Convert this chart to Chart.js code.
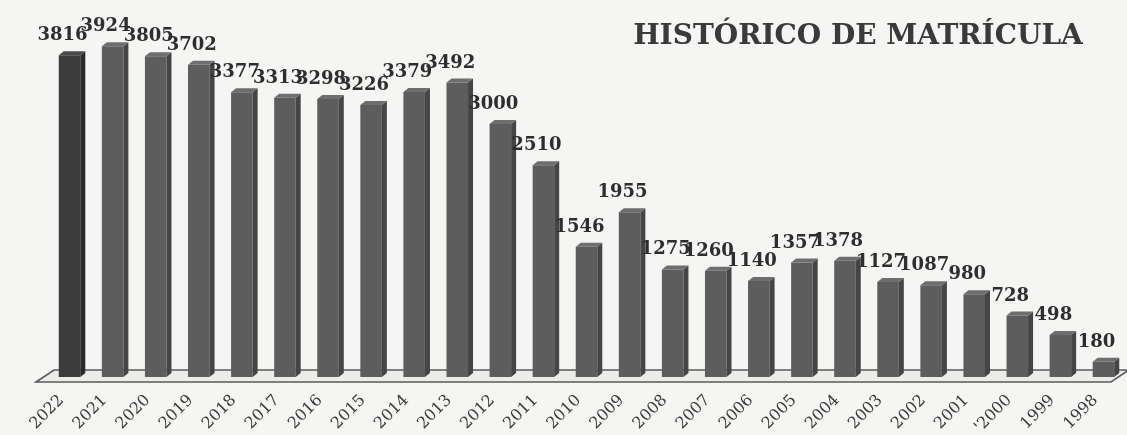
<!DOCTYPE html>
<html>
<head>
<meta charset="utf-8">
<script src="https://cdn.jsdelivr.net/npm/chart.js@4"></script>
<style>
  html,body{margin:0;padding:0;background:#f5f5f3;}
  #wrap{width:1127px;height:435px;position:relative;}
</style>
</head>
<body>
<div id="wrap"><canvas id="matricula"></canvas></div>
<script>
// matrícula por año escolar, del más reciente al más antiguo
const years=['2022','2021','2020','2019','2018','2017','2016','2015','2014','2013','2012','2011','2010','2009','2008','2007','2006','2005','2004','2003','2002','2001',"'2000",'1999','1998'];
const enrolled=[3816,3924,3805,3702,3377,3313,3298,3226,3379,3492,3000,2510,1546,1955,1275,1260,1140,1357,1378,1127,1087,980,728,498,180];
const title='HISTÓRICO DE MATRÍCULA';

const SERIF='"DejaVu Serif", "Liberation Serif", serif';
const DEPTH=5;

function shade(i){ return i===0?'#3b3b3b':'#5d5d5d'; }
function side(i){ return i===0?'#2a2a2a':'#454545'; }
function topc(i){ return i===0?'#4a4a4a':'#6e6e6e'; }

// caras laterales, piso y etiquetas para el efecto 3D
const bars3d={
  id:'bars3d',
  beforeDatasetsDraw(chart){
    const {ctx,chartArea:ca}=chart;
    const b=ca.bottom;
    ctx.save();
    ctx.beginPath();
    ctx.moveTo(ca.left-12,b+5);
    ctx.lineTo(ca.left+6,b-7);
    ctx.lineTo(ca.right+4,b-7);
    ctx.lineTo(ca.right-14,b+5);
    ctx.closePath();
    ctx.fillStyle='#ececea';
    ctx.fill();
    ctx.lineWidth=1.6;
    ctx.strokeStyle='#5a5a5a';
    ctx.stroke();
    ctx.restore();
  },
  afterDatasetsDraw(chart){
    const {ctx}=chart;
    const meta=chart.getDatasetMeta(0);
    ctx.save();
    meta.data.forEach((bar,i)=>{
      const w=bar.width, l=bar.x-w/2, r=bar.x+w/2, t=bar.y, b=bar.base;
      ctx.fillStyle=side(i);
      ctx.beginPath();
      ctx.moveTo(r,t);ctx.lineTo(r+DEPTH,t-DEPTH+1);ctx.lineTo(r+DEPTH,b-DEPTH+1);ctx.lineTo(r,b);
      ctx.closePath();ctx.fill();
      ctx.fillStyle=topc(i);
      ctx.beginPath();
      ctx.moveTo(l,t);ctx.lineTo(l+DEPTH,t-DEPTH+1);ctx.lineTo(r+DEPTH,t-DEPTH+1);ctx.lineTo(r,t);
      ctx.closePath();ctx.fill();
    });
    ctx.fillStyle='#2e2e2e';
    ctx.font='bold 18px '+SERIF;
    ctx.textAlign='center';
    ctx.textBaseline='alphabetic';
    meta.data.forEach((bar,i)=>{
      ctx.fillText(String(enrolled[i]),bar.x-7,bar.y-15);
    });
    ctx.restore();
  },
  afterDraw(chart){
    const {ctx}=chart;
    ctx.save();
    ctx.fillStyle='#3a3a3a';
    ctx.font='bold 28px '+SERIF;
    ctx.textAlign='center';
    ctx.textBaseline='alphabetic';
    ctx.fillText(title,858,44,462);
    ctx.restore();
  }
};

new Chart(document.getElementById('matricula'),{
  type:'bar',
  data:{
    labels:years,
    datasets:[{
      data:enrolled,
      backgroundColor:enrolled.map((v,i)=>shade(i)),
      borderWidth:0,
      barPercentage:0.5,
      categoryPercentage:1
    }]
  },
  options:{
    responsive:true,maintainAspectRatio:false,animation:false,
    layout:{padding:{left:48,right:2,top:6,bottom:0}},
    plugins:{legend:{display:false},tooltip:{enabled:false},title:{display:false}},
    scales:{
      x:{
        grid:{display:false},border:{display:false},
        afterFit(scale){ scale.height=58; },
        ticks:{color:'#3a3a3a',font:{family:SERIF,size:16},minRotation:45,maxRotation:45,padding:6,labelOffset:-8,autoSkip:false}
      },
      y:{display:false,min:0,max:4400}
    }
  },
  plugins:[bars3d]
});
</script>
</body>
</html>
